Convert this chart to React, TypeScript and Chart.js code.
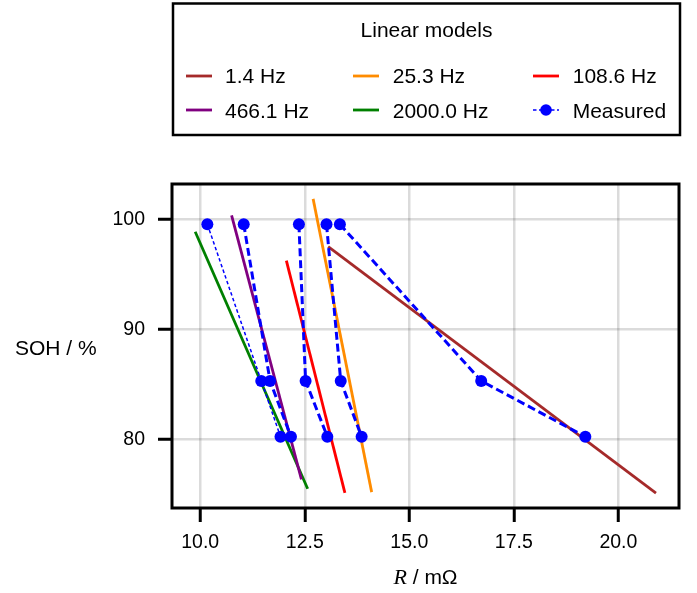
import React, { useEffect, useRef } from "react";
import { Chart, registerables } from "chart.js";
Chart.register(...registerables);

// ---- data ----
const sohLevels = [99.55, 85.33, 80.27];
const freqLabels = ["1.4 Hz", "25.3 Hz", "108.6 Hz", "466.1 Hz", "2000.0 Hz"];
const modelColors = ["#a52a2a", "#ff8c00", "#ff0000", "#800080", "#008000"];

const measuredR_1_4 = [13.34, 16.72, 19.21];
const measuredR_25_3 = [13.02, 13.36, 13.86];
const measuredR_108_6 = [12.36, 12.52, 13.04];
const measuredR_466_1 = [11.04, 11.67, 12.17];
const measuredR_2000 = [10.17, 11.46, 11.92];

const modelR_1_4 = [13.06, 20.9];
const modelSOH_1_4 = [97.51, 75.15];
const modelR_25_3 = [12.7, 14.1];
const modelSOH_25_3 = [101.85, 75.24];
const modelR_108_6 = [12.06, 13.46];
const modelSOH_108_6 = [96.24, 75.18];
const modelR_466_1 = [10.75, 12.42];
const modelSOH_466_1 = [100.36, 76.39];
const modelR_2000 = [9.88, 12.57];
const modelSOH_2000 = [98.87, 75.55];

const xTickStep = 2.5;
const yTickStep = 10;
const xRange = [9.325, 21.45];
const yRange = [73.8, 103.2];

const legendTitle = "Linear models";
const measuredLabel = "Measured";
const xTitleItalic = "R";
const xTitleRest = " / mΩ";
const yTitle = "SOH / %";

const SANS = "'Liberation Sans', Arial, Helvetica, sans-serif";
const SERIF = "'Liberation Serif', 'Times New Roman', serif";

const modelR = [modelR_1_4, modelR_25_3, modelR_108_6, modelR_466_1, modelR_2000];
const modelSOH = [modelSOH_1_4, modelSOH_25_3, modelSOH_108_6, modelSOH_466_1, modelSOH_2000];
const measuredR = [measuredR_1_4, measuredR_25_3, measuredR_108_6, measuredR_466_1, measuredR_2000];

const toPts = (xs: number[], ys: number[]) => xs.map((x, i) => ({ x, y: ys[i] }));

const thinDash = [3.5, 2.5];
const thickDash = [8, 4];

const decorPlugin = {
  id: "decor",
  afterDraw(chart: any) {
    const ctx = chart.ctx as CanvasRenderingContext2D;
    const a = chart.chartArea;
    ctx.save();
    // frame
    ctx.strokeStyle = "#000";
    ctx.lineWidth = 3;
    ctx.strokeRect(a.left, a.top, a.right - a.left, a.bottom - a.top);

    // y title (horizontal)
    ctx.fillStyle = "#000";
    ctx.font = `21px ${SANS}`;
    ctx.textAlign = "left";
    ctx.textBaseline = "middle";
    ctx.fillText(yTitle, 15, (a.top + a.bottom) / 2 + 3);

    // x title
    ctx.textBaseline = "alphabetic";
    ctx.font = `italic 22px ${SERIF}`;
    const w1 = ctx.measureText(xTitleItalic).width;
    ctx.font = `21px ${SANS}`;
    const w2 = ctx.measureText(xTitleRest).width;
    const cx = (a.left + a.right) / 2;
    const sx = cx - (w1 + w2) / 2;
    ctx.font = `italic 22px ${SERIF}`;
    ctx.fillText(xTitleItalic, sx, 584);
    ctx.font = `21px ${SANS}`;
    ctx.fillText(xTitleRest, sx + w1, 584);

    // legend box
    const bx = a.left + 1, by = 3.5, bw = a.right + 1 - bx, bh = 131.5;
    ctx.lineWidth = 2.5;
    ctx.strokeRect(bx, by, bw, bh);
    ctx.textAlign = "center";
    ctx.font = `21px ${SANS}`;
    ctx.fillText(legendTitle, bx + bw / 2, 36.7);

    const items: { label: string; color: string; measured?: boolean }[] = [];
    freqLabels.forEach((l, i) => items.push({ label: l, color: modelColors[i] }));
    items.push({ label: measuredLabel, color: "#0000ff", measured: true });
    // column-major fill like matplotlib with ncol=3
    const order = [0, 3, 1, 4, 2, 5];
    const colLineX = [186, 353, 533];
    const colTextX = [225, 392.7, 572.7];
    const rowY = [76, 110];
    const rowBase = [83.3, 118];
    ctx.textAlign = "left";
    order.forEach((idx, k) => {
      const col = Math.floor(k / 2);
      const row = k % 2;
      const it = items[idx];
      const x0 = colLineX[col];
      const x1 = x0 + 26;
      const y = rowY[row];
      ctx.strokeStyle = it.color;
      if (it.measured) {
        ctx.lineWidth = 1.5;
        ctx.setLineDash(thinDash);
      } else {
        ctx.lineWidth = 2.8;
        ctx.setLineDash([]);
      }
      ctx.beginPath();
      ctx.moveTo(x0, y);
      ctx.lineTo(x1, y);
      ctx.stroke();
      ctx.setLineDash([]);
      if (it.measured) {
        ctx.fillStyle = it.color;
        ctx.beginPath();
        ctx.arc((x0 + x1) / 2, y, 5.8, 0, Math.PI * 2);
        ctx.fill();
      }
      ctx.fillStyle = "#000";
      ctx.fillText(it.label, colTextX[col], rowBase[row]);
    });
    ctx.restore();
  },
};

export default function App() {
  const ref = useRef<HTMLCanvasElement | null>(null);
  useEffect(() => {
    if (!ref.current) return;
    const datasets: any[] = [];
    measuredR.forEach((rs, i) => {
      const thin = i === measuredR.length - 1;
      datasets.push({
        label: measuredLabel + " " + freqLabels[i],
        data: toPts(rs, sohLevels),
        showLine: true,
        borderColor: "#0000ff",
        borderWidth: thin ? 1.5 : 3,
        borderDash: thin ? thinDash : thickDash,
        pointRadius: 6,
        pointBackgroundColor: "#0000ff",
        pointBorderWidth: 0,
        order: 0,
      });
    });
    modelR.forEach((rs, i) => {
      datasets.push({
        label: freqLabels[i],
        data: toPts(rs, modelSOH[i]),
        showLine: true,
        borderColor: modelColors[i],
        borderWidth: 2.8,
        pointRadius: 0,
        order: 1,
      });
    });
    const chart = new Chart(ref.current, {
      type: "scatter",
      data: { datasets },
      options: {
        animation: false,
        responsive: false,
        devicePixelRatio: 1,
        layout: { padding: { top: 184, left: 0, right: 18, bottom: 0 } },
        plugins: { legend: { display: false }, tooltip: { enabled: false } },
        scales: {
          x: {
            type: "linear",
            min: xRange[0],
            max: xRange[1],
            afterFit: (s: any) => {
              s.height = 85;
            },
            ticks: {
              stepSize: xTickStep,
              includeBounds: false,
              color: "#000",
              font: { family: SANS, size: 19.5 },
              padding: 9,
              maxRotation: 0,
              callback: (v: any) => Number(v).toFixed(1),
            },
            grid: {
              color: "rgba(0,0,0,0.14)",
              lineWidth: 2.5,
              tickColor: "#000",
              tickWidth: 3,
              tickLength: 14,
            },
            border: { display: false },
          },
          y: {
            type: "linear",
            min: yRange[0],
            max: yRange[1],
            afterFit: (s: any) => {
              s.width = 172;
            },
            ticks: {
              stepSize: yTickStep,
              includeBounds: false,
              color: "#000",
              font: { family: SANS, size: 19.5 },
              padding: 13,
              callback: (v: any) => String(Math.round(Number(v))),
            },
            grid: {
              color: "rgba(0,0,0,0.14)",
              lineWidth: 2.5,
              tickColor: "#000",
              tickWidth: 3,
              tickLength: 14,
            },
            border: { display: false },
          },
        },
      },
      plugins: [decorPlugin],
    });
    return () => chart.destroy();
  }, []);
  return (
    <div style={{ position: "absolute", left: 0, top: 0, width: 697, height: 593, background: "#fff" }}>
      <canvas ref={ref} width={697} height={593} style={{ display: "block" }} />
    </div>
  );
}
